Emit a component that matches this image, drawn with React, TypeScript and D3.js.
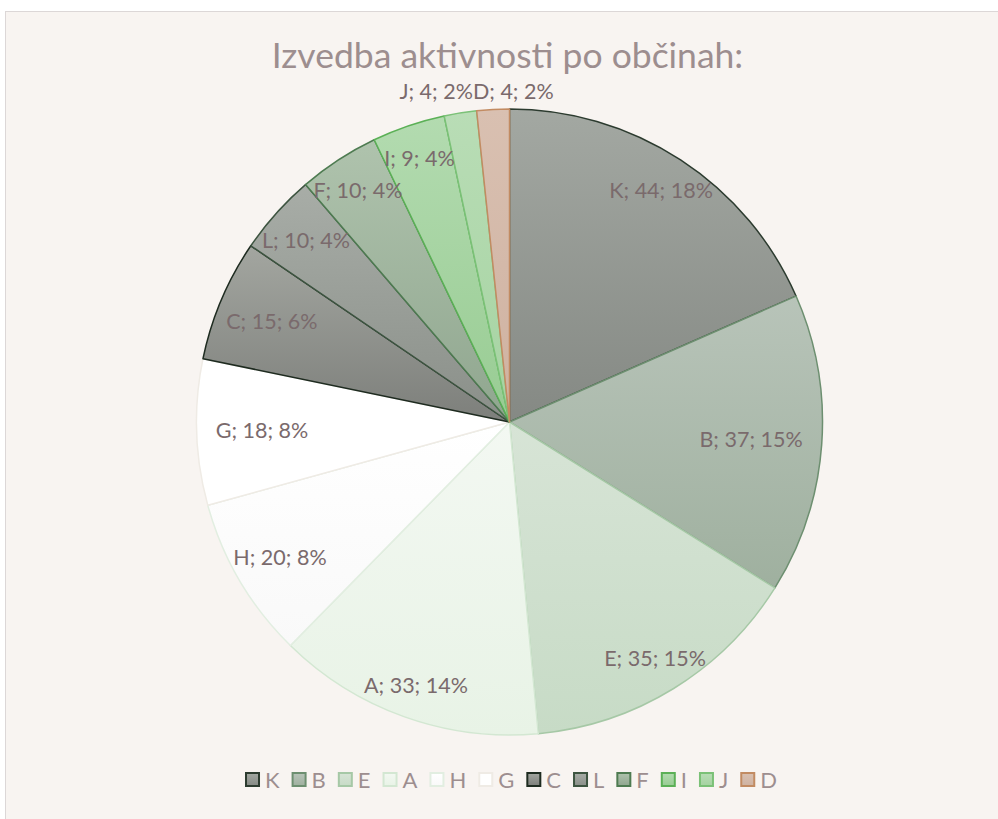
import React, { useEffect, useRef } from 'react';
import * as d3 from 'd3';

const categories = ['K', 'B', 'E', 'A', 'H', 'G', 'C', 'L', 'F', 'I', 'J', 'D'];
const values = [44, 37, 35, 33, 20, 18, 15, 10, 10, 9, 4, 4];
const fillTop = ['#a3a8a2', '#b8c4b9', '#d7e4d6', '#f3f8f2', '#ffffff', '#ffffff', '#a3a6a0', '#a8ada7', '#afc3ad', '#b3dbb0', '#b9ddb6', '#d9c0b1'];
const fillBottom = ['#858984', '#9fb09f', '#c7dbc6', '#e8f3e6', '#f9f9f9', '#ffffff', '#7d7f7b', '#8a8f89', '#90a68f', '#98cc93', '#a5d3a1', '#cfb2a1'];
const strokes = ['#2c3b2f', '#6d8f70', '#a6c8a6', '#d3e7d2', '#e2eee1', '#efebe5', '#1e2b20', '#3d5440', '#4e7b51', '#5bb056', '#7bc177', '#c28b62'];
const title = 'Izvedba aktivnosti po občinah:';

const W = 998;
const H = 819;
const FONT = 'Lato, "Open Sans", sans-serif';

export default function App() {
  const ref = useRef<SVGSVGElement>(null);
  useEffect(() => {
    const svg = d3.select(ref.current);
    svg.selectAll('*').remove();
    const cx = 509.5, cy = 422, R = 313;

    const defs = svg.append('defs');
    categories.forEach((c, i) => {
      const g = defs.append('linearGradient').attr('id', 'grad' + i)
        .attr('x1', 0).attr('y1', 0).attr('x2', 0).attr('y2', 1);
      g.append('stop').attr('offset', '0%').attr('stop-color', fillTop[i]);
      g.append('stop').attr('offset', '100%').attr('stop-color', fillBottom[i]);
    });

    svg.append('rect').attr('width', W).attr('height', H).attr('fill', '#ffffff');
    svg.append('rect').attr('x', 5.5).attr('y', 11.5).attr('width', 1000).attr('height', 900)
      .attr('fill', '#f8f4f1').attr('stroke', '#dcd7d7');

    svg.append('text').attr('x', 507.5).attr('y', 68).attr('text-anchor', 'middle')
      .attr('font-family', FONT).attr('font-size', 35.5).attr('fill', '#9d8e8f').text(title);

    const total = d3.sum(values);
    const pie = d3.pie<number>().sort(null).value(d => d);
    const arcs = pie(values);
    const arc = d3.arc<d3.PieArcDatum<number>>().innerRadius(0).outerRadius(R);
    const g = svg.append('g').attr('transform', `translate(${cx},${cy})`);
    g.selectAll('path').data(arcs).join('path')
      .attr('d', arc as any)
      .attr('fill', (d, i) => `url(#grad${i})`)
      .attr('stroke', (d, i) => strokes[i])
      .attr('stroke-width', 1.5)
      .attr('stroke-linejoin', 'round');

    // labels
    const hh = 14;
    const inner: any[] = [];
    const outer: any[] = [];
    arcs.forEach((a, i) => {
      const txt = `${categories[i]}; ${values[i]}; ${Math.round(values[i] / total * 100)}%`;
      const t = g.append('text').attr('font-family', FONT).attr('font-size', 21.5)
        .attr('fill', '#7a6a6c').attr('text-anchor', 'middle').text(txt);
      const w = (t.node() as SVGTextElement).getComputedTextLength();
      const hw = w / 2;
      const th = (a.startAngle + a.endAngle) / 2;
      const s = Math.sin(th), c = -Math.cos(th);
      const exit = Math.min(Math.abs(s) > 1e-6 ? hw / Math.abs(s) : 1e9, Math.abs(c) > 1e-6 ? hh / Math.abs(c) : 1e9);
      let d = R - 19 - exit;
      const span = a.endAngle - a.startAngle;
      const extent = 2 * (hw * Math.abs(Math.cos(th)) + hh * Math.abs(Math.sin(th)));
      const item: any = { t, hw, x: 0, y: 0 };
      if (extent <= span * d * 1.5) {
        item.x = d * s; item.y = d * c;
        inner.push(item);
      } else {
        d = R + 4.5 + exit;
        item.x = d * s; item.y = d * c;
        outer.push(item);
      }
    });
    outer.sort((p, q) => p.x - q.x);
    for (let k = 1; k < outer.length; k++) {
      const p = outer[k - 1], q = outer[k];
      const overlap = (p.x + p.hw) - (q.x - q.hw);
      if (overlap > 0 && Math.abs(p.y - q.y) < 2 * hh) {
        p.x -= overlap / 2; q.x += overlap / 2;
        const y = Math.min(p.y, q.y); p.y = y; q.y = y;
      }
    }
    [...inner, ...outer].forEach(it => {
      it.t.attr('x', it.x).attr('y', it.y + 8);
    });

    // legend
    const lg = svg.append('g');
    const ly = 780;
    let x = 0;
    categories.forEach((c, i) => {
      const it = lg.append('g');
      it.append('rect').attr('x', x + 1).attr('y', ly - 7).attr('width', 13).attr('height', 13)
        .attr('fill', `url(#grad${i})`).attr('stroke', strokes[i]).attr('stroke-width', 2);
      const t = it.append('text').attr('x', x + 20).attr('y', ly + 8).attr('font-family', FONT)
        .attr('font-size', 22).attr('fill', '#9d8e8f').text(c);
      const w = (t.node() as SVGTextElement).getComputedTextLength();
      x += 20 + w + 12;
    });
    const totalW = x - 12;
    lg.attr('transform', `translate(${511 - totalW / 2},0)`);
  }, []);
  return (
    <svg ref={ref} width={W} height={H}
      style={{ position: 'absolute', left: 0, top: 0, display: 'block' }} />
  );
}
